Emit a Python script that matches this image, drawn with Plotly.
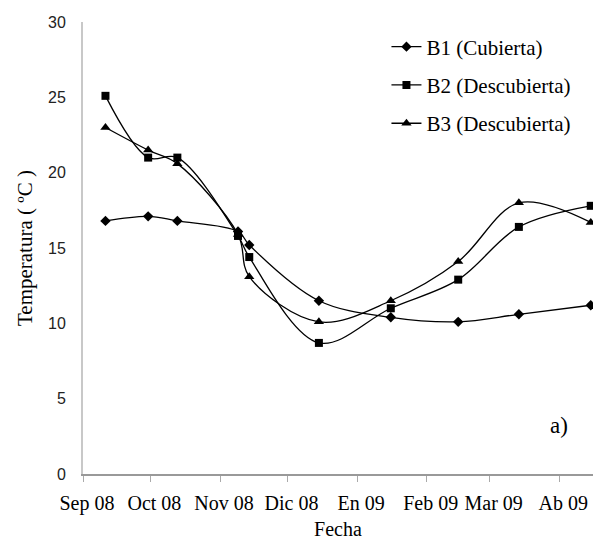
import plotly.graph_objects as go

fechas = ["2008-09-11", "2008-09-30", "2008-10-13", "2008-11-09", "2008-11-14",
          "2008-12-15", "2009-01-16", "2009-02-15", "2009-03-14", "2009-04-15"]
b1 = [16.8, 17.1, 16.8, 16.1, 15.2, 11.5, 10.4, 10.1, 10.6, 11.2]
b2 = [25.1, 21.0, 21.0, 15.8, 14.4, 8.7, 11.0, 12.9, 16.4, 17.8]
b3 = [23.0, 21.5, 20.6, 15.9, 13.1, 10.1, 11.5, 14.1, 18.0, 16.7]

tick_vals = ["2008-09-01", "2008-10-01", "2008-11-01", "2008-12-01",
             "2009-01-01", "2009-02-01", "2009-03-01", "2009-04-01"]
tick_text = ["Sep 08", "Oct 08", "Nov 08", "Dic 08", "En 09", "Feb 09", "Mar 09", "Ab 09"]

series = [
    ("B1 (Cubierta)", b1, "diamond", 8),
    ("B2 (Descubierta)", b2, "square", 8),
    ("B3 (Descubierta)", b3, "triangle-up", 9),
]

fig = go.Figure()
for i, (name, vals, sym, size) in enumerate(series):
    fig.add_trace(go.Scatter(
        x=fechas, y=vals, name=name, mode="lines+markers",
        line=dict(color="black", width=1.3, shape="spline", smoothing=1),
        marker=dict(symbol=sym, size=size, color="black"),
        legendgroup=f"g{i}",
    ))

serif = "Liberation Serif"
fig.update_layout(
    width=593, height=542,
    margin=dict(l=83, r=0, t=22, b=68),
    plot_bgcolor="white", paper_bgcolor="white",
    showlegend=True,
    legend=dict(x=0.595, y=0.99, xanchor="left", yanchor="top",
                font=dict(family=serif, size=21, color="black"),
                tracegroupgap=8, bgcolor="rgba(0,0,0,0)"),
    xaxis=dict(
        type="date", range=["2008-09-01", "2009-04-16"],
        tickvals=tick_vals, ticktext=tick_text,
        tickfont=dict(family=serif, size=20, color="black"),
        ticks="outside", ticklen=6, tickcolor="#aaaaaa",
        showline=True, linecolor="#999999", linewidth=1.5,
        showgrid=False, zeroline=False,
        ticklabelstandoff=4, ticklabelshift=4,
        title=dict(text="Fecha", font=dict(family=serif, size=20, color="black"), standoff=8),
    ),
    yaxis=dict(
        range=[0, 30], tickvals=[0, 5, 10, 15, 20, 25, 30],
        tickfont=dict(family="Liberation Sans", size=16, color="#222222"),
        showline=True, linecolor="#c8c8c8", linewidth=2,
        showgrid=False, zeroline=False, ticks="",
        ticklabelstandoff=12,
        title=dict(text="Temperatura ( ºC )", font=dict(family=serif, size=21, color="black"), standoff=10),
    ),
    annotations=[dict(text="a)", x=0.955, y=0.075, xref="paper", yref="paper",
                      showarrow=False, font=dict(family=serif, size=23, color="black"))],
)

fig.write_html("out.html")
